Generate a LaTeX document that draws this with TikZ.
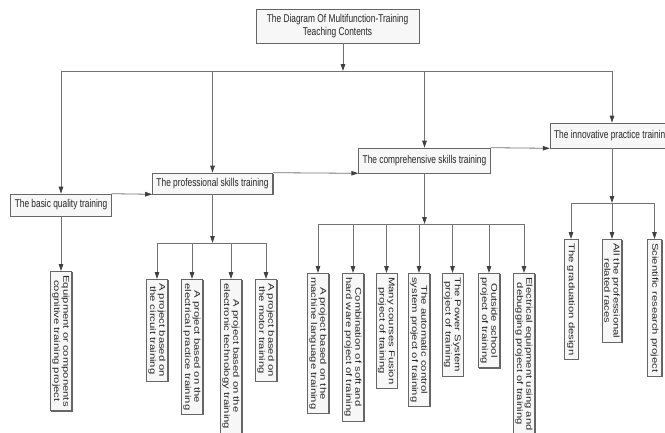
\documentclass[tikz,border=0pt]{standalone}
\usepackage{fontspec}
\setmainfont{Liberation Sans}
\newfontfamily\narrowfont[FakeStretch=0.74]{Liberation Sans}
\newfontfamily\widefont[FakeStretch=1.34]{Liberation Sans}
\usetikzlibrary{positioning, arrows.meta, shadows}

\begin{document}
\begin{tikzpicture}[
		x=1pt, y=-1pt,
		>={Triangle[length=7pt, width=4.5pt, color=black!75]},
		link/.style={->, draw=black!55, line width=0.8pt},
		box/.style={draw=black!60, line width=0.6pt, fill=black!3, text=black!85},
		stage/.style={box, font=\fontsize{11.3}{13.3}\narrowfont, inner xsep=4pt, inner ysep=0pt,
			drop shadow={shadow xshift=1pt, shadow yshift=-1pt, fill=black!60, opacity=1}},
		project/.style={box, rotate=-90, anchor=west, align=center, font=\fontsize{8.4}{9.3}\widefont,
			inner xsep=4pt, inner ysep=2pt, minimum height=14pt,
			drop shadow={shadow xshift=1pt, shadow yshift=-1pt, fill=black!60, opacity=1}}
		]
		\clip (0,0) rectangle (665,432);
		
		% --- 1. The root ---
		\node[stage, align=center, minimum width=163pt, minimum height=34pt] (root) at (337.5,26)
			{The Diagram Of Multifunction-Training\\Teaching Contents};
		\coordinate (hub0) at (343,71);
		
		% --- 2. The four kinds of training ---
		\node[stage, minimum height=22pt] (basic) at (61,205) {The basic quality training};
		\node[stage, minimum height=21pt] (prof) at (212.5,183.5) {The professional skills training};
		\node[stage, minimum height=25pt] (comp) at (424.5,160.5) {The comprehensive skills training};
		\node[stage, minimum height=25pt] (innov) at (612,135.5) {The innovative practice training};
		
		\draw[link] (root.south -| hub0) -- (hub0);
		\foreach \n in {basic, prof, comp, innov}
			\draw[link] (hub0) -| (\n);
		\draw[link] (basic.north east) -- (prof.south west);
		\draw[link] (prof.north east) -- (comp.south west);
		\draw[link] (comp.north east) -- (innov.south west);
		
		% --- 3. Projects ---
		\node[project] (bc1) at (61,271) {Equipment or components\\cognitive training project};
		\draw[link] (basic) -- (bc1);
		
		\coordinate (hub1) at (212.5,243);
		\node[project] (pc1) at (157,279) {A project based on\\the circuit training};
		\node[project] (pc2) at (192,279) {A project based on the\\electrical practice training};
		\node[project] (pc3) at (231,279) {A project based on the\\electronic technology training};
		\node[project] (pc4) at (266,279) {A project based on\\the motor training};
		\draw[link] (prof) -- (hub1);
		\foreach \i in {1,...,4}
			\draw[link] (hub1) -| (pc\i);
		
		\coordinate (hub2) at (424.5,224);
		\node[project] (cc1) at (318,273) {A project based on the\\machine language training};
		\node[project] (cc2) at (353,273) {Combination of soft and\\hard ware project of training};
		\node[project] (cc3) at (386.5,273) {Many courses Fusion\\project of training};
		\node[project] (cc4) at (419,273) {The automatic control\\system project of training};
		\node[project] (cc5) at (452.5,273) {The Power System\\project of training};
		\node[project] (cc6) at (489,273) {Outside school\\project of training};
		\node[project] (cc7) at (524,273) {Electrical equipment using and\\debugging project of training};
		\draw[link] (comp) -- (hub2);
		\foreach \i in {1,...,7}
			\draw[link] (hub2) -| (cc\i);
		
		\coordinate (hub3) at (612,203);
		\node[project] (ic1) at (571,239) {The graduation design};
		\node[project] (ic2) at (612,239) {All the professional\\related races};
		\node[project] (ic3) at (654.5,239) {Scientific research project};
		\draw[link] (innov) -- (hub3);
		\foreach \i in {1,...,3}
			\draw[link] (hub3) -| (ic\i);
		
	\end{tikzpicture}
\end{document}
